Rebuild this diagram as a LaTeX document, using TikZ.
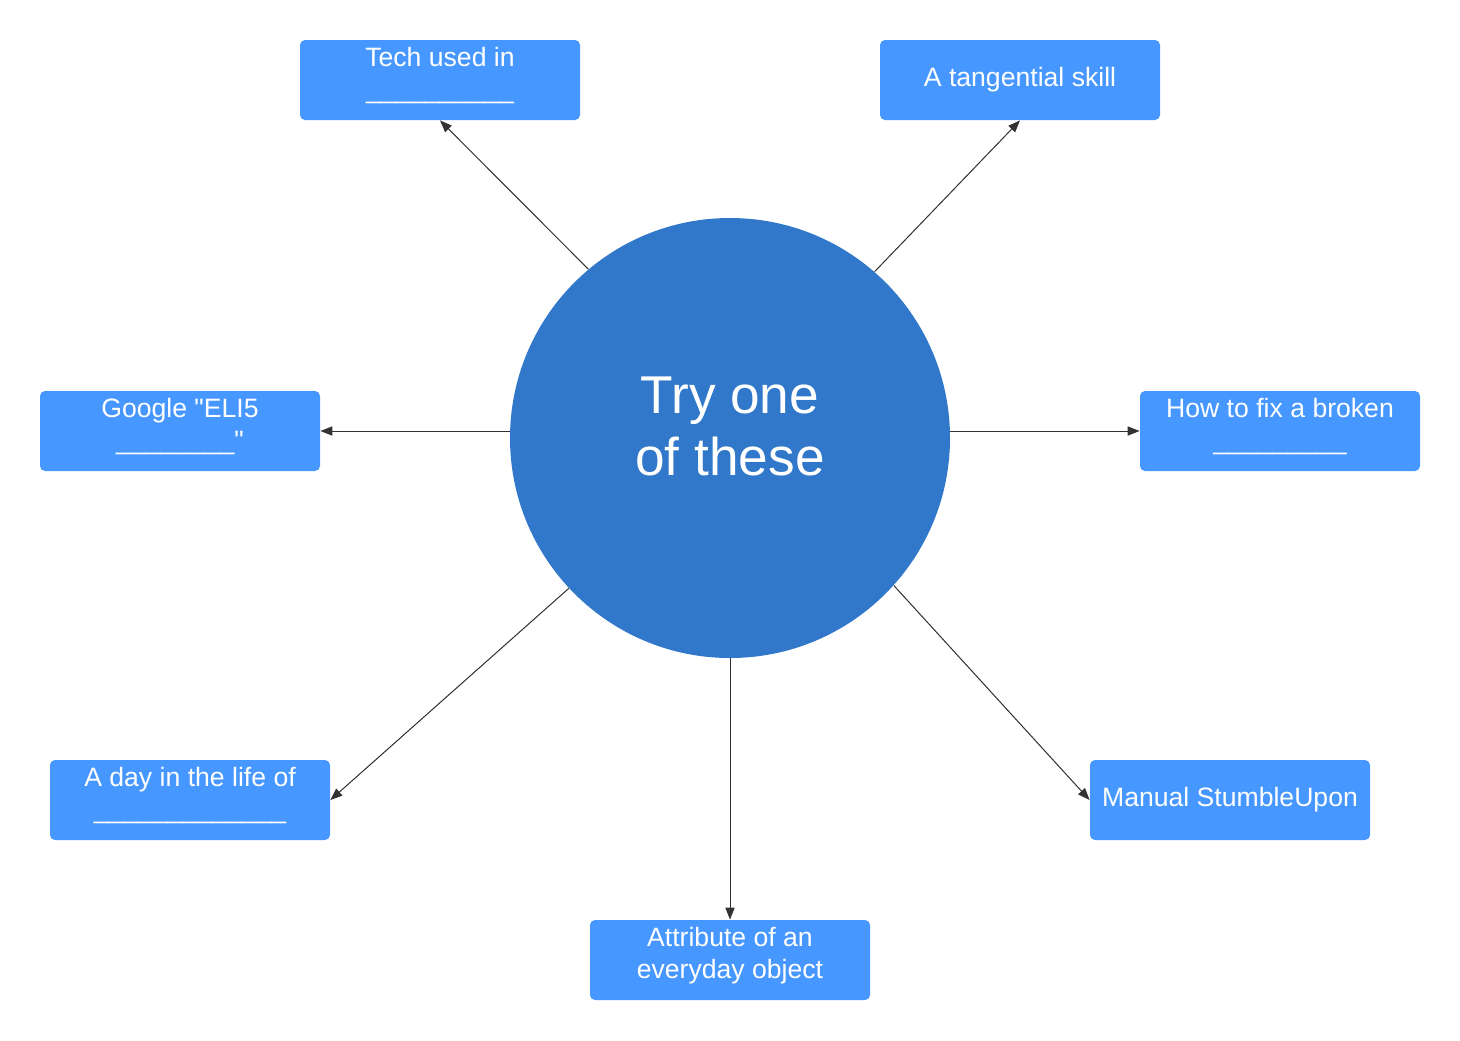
\documentclass[tikz,border=0pt]{standalone}
\usepackage{fontspec}
\setmainfont{Liberation Sans}[Ligatures=TeXOff]
\usetikzlibrary{arrows.meta}
\definecolor{hubblue}{RGB}{50,120,202}
\definecolor{boxblue}{RGB}{70,151,255}
\definecolor{linegray}{RGB}{51,51,51}
\tikzset{
  x=0.5pt, y=-0.5pt,
  hub/.style={circle, fill=hubblue, minimum size=220pt, inner sep=0pt},
  hubtext/.style={text=white, align=center, font=\fontsize{26.6pt}{31pt}\selectfont, inner sep=0pt},
  ideabox/.style={rectangle, rounded corners=2.5pt, fill=boxblue, minimum width=140pt, minimum height=40pt, inner sep=0pt},
  boxtext/.style={text=white, align=center, font=\fontsize{13.3pt}{16pt}\selectfont, inner sep=0pt},
  twoline/.style={yshift=2.2pt},
  link/.style={draw=linegray, line width=0.5pt, -{Triangle[length=6pt,width=4.6pt]}, fill=linegray},
}
\begin{document}
\begin{tikzpicture}
\useasboundingbox (0,0) rectangle (1460,1040);
\node[hub] (c) at (730,438) {};
\node[hubtext, yshift=5.6pt] (ct) at (c.center) {Try one\\of these};

\node[ideabox] (b1) at (440,80) {};
\node[ideabox] (b2) at (1020,80) {};
\node[ideabox] (b3) at (180,431) {};
\node[ideabox] (b4) at (1280,431) {};
\node[ideabox] (b5) at (190,800) {};
\node[ideabox] (b6) at (1230,800) {};
\node[ideabox] (b7) at (730,960) {};

\node[boxtext, twoline] (t1) at (b1.center) {Tech used in\\\_\_\_\_\_\_\_\_\_\_};
\node[boxtext] (t2) at (b2.center) {A tangential skill};
\node[boxtext, twoline] (t3) at (b3.center) {Google "ELI5\\\_\_\_\_\_\_\_\_"};
\node[boxtext, twoline] (t4) at (b4.center) {How to fix a broken\\\_\_\_\_\_\_\_\_\_};
\node[boxtext, twoline] (t5) at (b5.center) {A day in the life of\\\_\_\_\_\_\_\_\_\_\_\_\_\_};
\node[boxtext] (t6) at (b6.center) {Manual StumbleUpon};
\node[boxtext, twoline] (t7) at (b7.center) {Attribute of an\\everyday object};

\draw[link] (c.130) -- (b1.south);
\draw[link] (c.49) -- (b2.south);
\draw[link] (c.west |- b3.east) -- (b3.east);
\draw[link] (c.east |- b4.west) -- (b4.west);
\draw[link] (c.223) -- (b5.east);
\draw[link] (c.-42) -- (b6.west);
\draw[link] (c.south) -- (b7.north);
\end{tikzpicture}
\end{document}
